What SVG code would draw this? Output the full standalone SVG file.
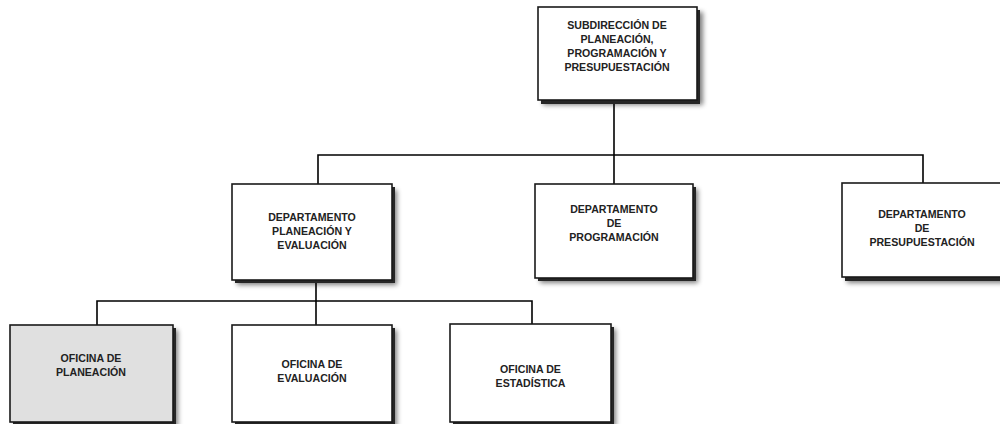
<svg xmlns="http://www.w3.org/2000/svg" width="1000" height="424" viewBox="0 0 1000 424">
<defs>
<filter id="blur" x="-20%" y="-20%" width="140%" height="140%"><feGaussianBlur stdDeviation="2.5"/></filter>
</defs>
<style>
.soft{fill:#000;opacity:0.5;filter:url(#blur)}
.dark{fill:#262626}
.box{fill:#fff;stroke:#1a1a1a;stroke-width:1.6}
.gray{fill:#e0e0e0}
.t{font-family:"Liberation Sans",Arial,sans-serif;font-weight:bold;font-size:10.6px;fill:#222;text-anchor:middle}
.c{stroke:#000;stroke-width:1.6;fill:none}
</style>
<g id="connectors">
<line class="c" x1="614" y1="100" x2="614" y2="184"/>
<polyline class="c" points="318,184 318,155 923,155 923,183"/>
<line class="c" x1="316" y1="280" x2="316" y2="325"/>
<polyline class="c" points="97,325 97,301 532,301 532,324"/>
</g>
<g id="n_subdireccion">
<rect class="soft" x="543" y="12" width="160" height="93"/>
<rect class="dark" x="541" y="10" width="159" height="94"/>
<rect class="box" x="538" y="7" width="159" height="93"/>
<text class="t" x="617" y="28.5">SUBDIRECCIÓN DE</text>
<text class="t" x="617" y="42.5">PLANEACIÓN,</text>
<text class="t" x="617" y="56.5">PROGRAMACIÓN Y</text>
<text class="t" x="617" y="70.5">PRESUPUESTACIÓN</text>
</g>
<g id="n_dep_planeacion">
<rect class="soft" x="237" y="190" width="160" height="95"/>
<rect class="dark" x="235" y="187" width="160" height="96"/>
<rect class="box" x="232" y="184" width="160" height="96"/>
<text class="t" x="312" y="220.5">DEPARTAMENTO</text>
<text class="t" x="312" y="234.5">PLANEACIÓN Y</text>
<text class="t" x="312" y="248.5">EVALUACIÓN</text>
</g>
<g id="n_dep_programacion">
<rect class="soft" x="540" y="189" width="158" height="94"/>
<rect class="dark" x="538" y="187" width="158" height="94"/>
<rect class="box" x="535" y="184" width="158" height="94"/>
<text class="t" x="614" y="213">DEPARTAMENTO</text>
<text class="t" x="614" y="227">DE</text>
<text class="t" x="614" y="240.5">PROGRAMACIÓN</text>
</g>
<g id="n_dep_presupuestacion">
<rect class="soft" x="847" y="188" width="162" height="95"/>
<rect class="dark" x="845" y="186" width="162" height="95"/>
<rect class="box" x="842" y="183" width="162" height="94"/>
<text class="t" x="922" y="218">DEPARTAMENTO</text>
<text class="t" x="922" y="232">DE</text>
<text class="t" x="922" y="246">PRESUPUESTACIÓN</text>
</g>
<g id="n_of_planeacion">
<rect class="soft" x="15" y="330" width="163" height="98"/>
<rect class="dark" x="13" y="328" width="163" height="98"/>
<rect class="box gray" x="10" y="325" width="163" height="97"/>
<text class="t" x="91" y="362">OFICINA DE</text>
<text class="t" x="91" y="375.5">PLANEACIÓN</text>
</g>
<g id="n_of_evaluacion">
<rect class="soft" x="237" y="330" width="160" height="98"/>
<rect class="dark" x="235" y="328" width="160" height="98"/>
<rect class="box" x="232" y="325" width="160" height="97"/>
<text class="t" x="312" y="368">OFICINA DE</text>
<text class="t" x="312" y="382">EVALUACIÓN</text>
</g>
<g id="n_of_estadistica">
<rect class="soft" x="455" y="329" width="161" height="98"/>
<rect class="dark" x="453" y="327" width="161" height="98"/>
<rect class="box" x="450" y="324" width="161" height="98"/>
<text class="t" x="530.5" y="373">OFICINA DE</text>
<text class="t" x="530.5" y="387">ESTADÍSTICA</text>
</g>
</svg>
